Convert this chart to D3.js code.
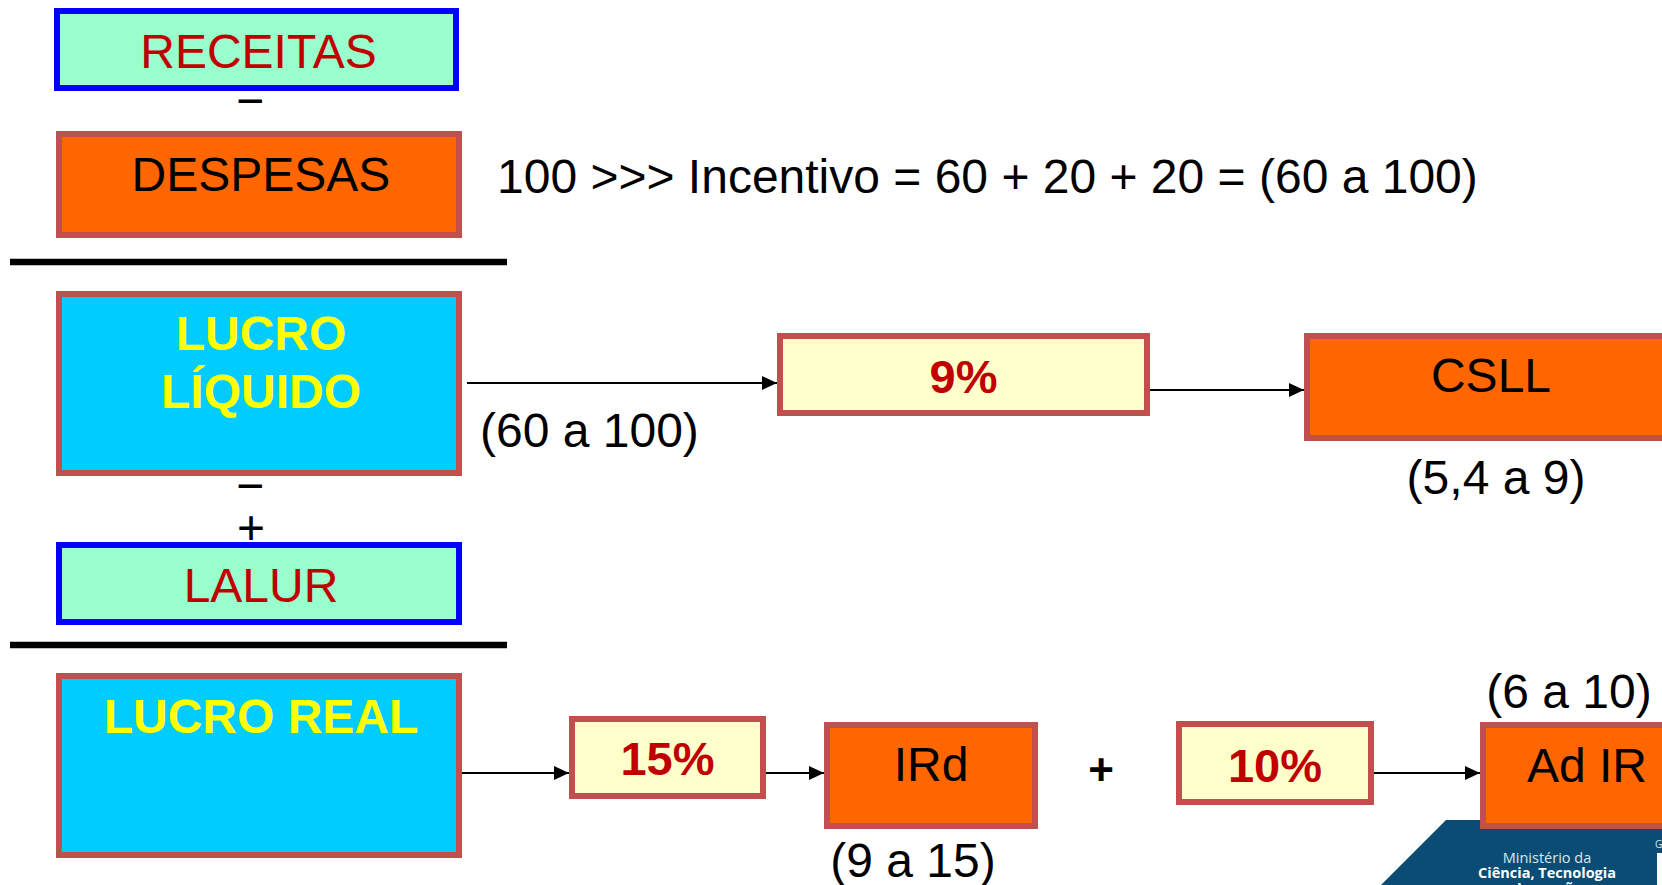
<!DOCTYPE html>
<html>
<head>
<meta charset="utf-8">
<script src="https://cdn.jsdelivr.net/npm/d3@7/dist/d3.min.js"></script>
<style>
  html, body { margin: 0; padding: 0; background: #ffffff; overflow: hidden; }
  svg { display: block; }
</style>
</head>
<body>
<svg id="diagram"></svg>
<script>
// ---- values ----
const stageLabels = ["RECEITAS", "DESPESAS", "LUCRO LÍQUIDO", "LALUR", "LUCRO REAL"];
const taxLabels = ["CSLL", "IRd", "Ad IR"];
const taxRates = [9, 15, 10];              // % applied to each base
const baseValue = 100;
const incentiveParts = [60, 20, 20];
const incentiveRange = [60, 100];
const taxRanges = [[5.4, 9], [9, 15], [6, 10]];
const operators = ["−", "−", "+"];

// ---- layout (outer box bounds: x0, y0, x1, y1) ----
const W = 1662, H = 885;
const stageBoxes = [
  { kind: "input",  b: [54, 8, 459, 91],    wrap: false, base: [68] },
  { kind: "cost",   b: [56, 131, 462, 238],  wrap: false, base: [191] },
  { kind: "profit", b: [56, 291, 462, 476],  wrap: true,  base: [350, 408] },
  { kind: "input",  b: [56, 542, 462, 625],  wrap: false, base: [602] },
  { kind: "profit", b: [56, 673, 462, 858],  wrap: false, base: [733] }
];
const rateBoxes = [
  { b: [777, 333, 1150, 416], base: 393 },
  { b: [569, 716, 766, 799],  base: 775 },
  { b: [1176, 721, 1374, 805], base: 782 }
];
const taxBoxes = [
  { b: [1304, 333, 1678, 441], base: 392 },
  { b: [824, 722, 1038, 829],  base: 781 },
  { b: [1480, 722, 1693, 829], base: 782 }
];
const rangePos = [ [1496, 494], [913, 877], [1569, 708] ];
const styles = {
  input:  { fill: "#99FFCC", stroke: "#0000FF", color: "#C00000", weight: "normal", size: 48 },
  cost:   { fill: "#FF6600", stroke: "#C0504D", color: "#000000", weight: "normal", size: 48 },
  profit: { fill: "#00CCFF", stroke: "#C0504D", color: "#FFFF00", weight: "bold",   size: 48 },
  rate:   { fill: "#FFFFCC", stroke: "#C0504D", color: "#C00000", weight: "bold",   size: 47 }
};
const BORDER = 6;
const FONT = "'Liberation Sans', Arial, Helvetica, sans-serif";

const svg = d3.select("#diagram").attr("width", W).attr("height", H)
  .attr("viewBox", `0 0 ${W} ${H}`);
svg.append("rect").attr("width", W).attr("height", H).attr("fill", "#ffffff");

const defs = svg.append("defs");
defs.append("marker")
  .attr("id", "head")
  .attr("markerUnits", "userSpaceOnUse")
  .attr("viewBox", "0 0 15 14")
  .attr("refX", 15).attr("refY", 7)
  .attr("markerWidth", 15).attr("markerHeight", 14)
  .attr("orient", "auto")
  .append("path").attr("d", "M0,0 L15,7 L0,14 Z").attr("fill", "#000");

const fmt = v => String(v).replace(".", ",");

// ---- ministry badge, bottom right (drawn first, boxes sit over it) ----
const badge = svg.append("g");
badge.append("path")
  .attr("d", `M1381,${H} L1446,820 L${W},820 L${W},${H} Z`)
  .attr("fill", "#0B4C74");
badge.append("text").attr("x", 1547).attr("y", 863)
  .attr("text-anchor", "middle").attr("font-family", "'Open Sans', sans-serif")
  .attr("font-size", 14.5).attr("fill", "#DCE6EE").text("Ministério da");
badge.append("text").attr("x", 1547).attr("y", 878)
  .attr("text-anchor", "middle").attr("font-family", "'Open Sans', sans-serif")
  .attr("font-weight", "bold").attr("font-size", 14.5).attr("fill", "#FFFFFF")
  .text("Ciência, Tecnologia");
badge.append("text").attr("x", 1547).attr("y", 893)
  .attr("text-anchor", "middle").attr("font-family", "'Open Sans', sans-serif")
  .attr("font-weight", "bold").attr("font-size", 14.5).attr("fill", "#FFFFFF")
  .text("e Inovações");
badge.append("text").attr("x", 1655).attr("y", 848)
  .attr("font-family", "'Open Sans', sans-serif").attr("font-size", 10)
  .attr("fill", "#DCE6EE").text("G");
badge.append("rect").attr("x", 1657).attr("y", 853).attr("width", 5).attr("height", 32)
  .attr("fill", "#FFFFFF");

// ---- helpers ----
function drawBox(g, b, st) {
  const s = BORDER;
  g.append("rect")
    .attr("x", b[0] + s / 2).attr("y", b[1] + s / 2)
    .attr("width", b[2] - b[0] - s).attr("height", b[3] - b[1] - s)
    .attr("fill", st.fill).attr("stroke", st.stroke).attr("stroke-width", s);
}
function label(g, x, y, txt, st, anchor = "middle") {
  g.append("text").attr("x", x).attr("y", y)
    .attr("text-anchor", anchor)
    .attr("font-family", FONT).attr("font-size", st.size)
    .attr("font-weight", st.weight).attr("fill", st.color)
    .text(txt);
}
function arrow(x1, y, x2) {
  svg.append("line").attr("x1", x1).attr("y1", y).attr("x2", x2).attr("y2", y)
    .attr("stroke", "#000").attr("stroke-width", 2).attr("marker-end", "url(#head)");
}
const plain = { size: 48, weight: "normal", color: "#000000" };

// ---- left column: stage boxes ----
const stages = svg.append("g");
stageLabels.forEach((name, i) => {
  const L = stageBoxes[i], st = styles[L.kind];
  drawBox(stages, L.b, st);
  const cx = (L.b[0] + L.b[2]) / 2 + 2;
  const lines = L.wrap ? name.split(" ") : [name];
  lines.forEach((ln, k) => label(stages, cx, L.base[k], ln, st));
});

// operators between stages
const opPos = [[250, 117], [250, 502], [251, 544]];
operators.forEach((op, i) => label(svg, opPos[i][0], opPos[i][1], op, plain));

// separator rules
[262, 645].forEach(y => {
  svg.append("line").attr("x1", 10).attr("x2", 507).attr("y1", y).attr("y2", y)
    .attr("stroke", "#000").attr("stroke-width", 6.5);
});

// incentive statement
label(svg, 497, 193,
  `${baseValue} >>> Incentivo = ${incentiveParts.join(" + ")} = (${incentiveRange[0]} a ${incentiveRange[1]})`,
  plain, "start");

// ---- flows ----
arrow(467, 383, rateBoxes[0].b[0]);
arrow(rateBoxes[0].b[2], 390, taxBoxes[0].b[0]);
arrow(462, 773, rateBoxes[1].b[0]);
arrow(rateBoxes[1].b[2], 773, taxBoxes[1].b[0]);
arrow(rateBoxes[2].b[2], 773, taxBoxes[2].b[0]);

label(svg, 480, 447, `(${incentiveRange[0]} a ${incentiveRange[1]})`, plain, "start");

// rate boxes
const rates = svg.append("g");
taxRates.forEach((r, i) => {
  const L = rateBoxes[i];
  drawBox(rates, L.b, styles.rate);
  label(rates, (L.b[0] + L.b[2]) / 2, L.base, `${r}%`, styles.rate);
});

// tax result boxes
const taxes = svg.append("g");
taxLabels.forEach((t, i) => {
  const L = taxBoxes[i];
  drawBox(taxes, L.b, styles.cost);
  const cx = i === 1 ? 931 : (i === 0 ? 1491 : 1587);
  label(taxes, cx, L.base, t, styles.cost);
  label(taxes, rangePos[i][0], rangePos[i][1],
    `(${fmt(taxRanges[i][0])} a ${fmt(taxRanges[i][1])})`, plain);
});

// "+" joining the two income-tax parts
label(svg, 1101, 785, "+", { size: 44, weight: "bold", color: "#000000" });
</script>
</body>
</html>
